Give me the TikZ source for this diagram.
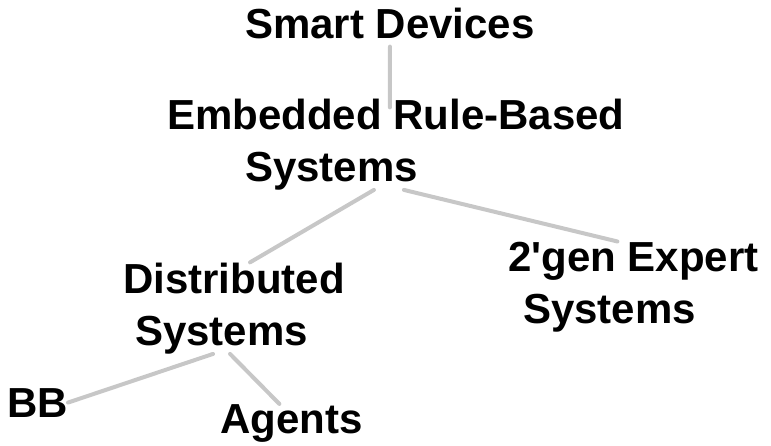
\documentclass[tikz,border=0pt]{standalone}
\usepackage{fontspec}
\setmainfont{Liberation Sans}
\usetikzlibrary{backgrounds}

\tikzset{
  topic/.style={inner sep=0pt, anchor=base west, align=left,
    font=\bfseries\fontsize{42}{52}\selectfont},
  link/.style={line width=4pt, draw=black!22, line cap=round},
}

\begin{document}
\begin{tikzpicture}[x=1pt,y=-1pt]
                    \useasboundingbox (0,0) rectangle (771,445);

                    % topics (base = last line)
                    \node[topic] (smart)  at (245,38)  {Smart Devices};
                    \node[topic] (rules)  at (167,181) {Embedded Rule-Based\\\hspace*{78pt}Systems};
                    \node[topic] (distr)  at (123,345) {Distributed\\\hspace*{12pt}Systems};
                    \node[topic] (expert) at (508,323) {2\textquotesingle gen Expert\\\hspace*{15pt}Systems};
                    \node[topic] (bb)     at (7,417)   {BB};
                    \node[topic] (agents) at (220,433) {Agents};

                    % links
                    \begin{scope}[on background layer]
                    \draw[link, shorten <=8pt] (smart.south) -- ([xshift=-6pt, yshift=-9pt]rules.north);
                    \draw[link] ([xshift=-22pt]rules.south) -- ([xshift=16pt]distr.north);
                    \draw[link] ([xshift=8pt]rules.south) -- ([xshift=-16pt]expert.north);
                    \draw[link] ([xshift=-21pt]distr.south) -- (bb.east);
                    \draw[link] ([xshift=-4pt]distr.south) -- ([xshift=-12pt]agents.north);
                    \end{scope}

                \end{tikzpicture}
\end{document}
